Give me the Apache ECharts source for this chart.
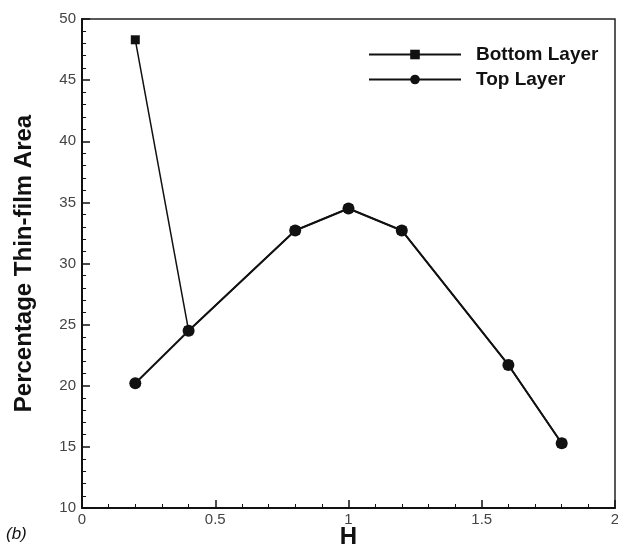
<!DOCTYPE html>
<html>
<head>
<meta charset="utf-8">
<script src="https://cdn.jsdelivr.net/npm/echarts@6/dist/echarts.min.js"></script>
<style>
  html, body { margin: 0; padding: 0; background: #fff; }
  #chart { width: 618px; height: 548px; }
</style>
</head>
<body>
<div id="chart"></div>
<script>
// values
const hValues = [0.2, 0.4, 0.8, 1.0, 1.2, 1.6, 1.8];
const bottomLayer = [48.3, 24.5, 32.7, 34.5, 32.7, 21.7, 15.3];
const topLayer = [20.2, 24.5, 32.7, 34.5, 32.7, 21.7, 15.3];

const chart = echarts.init(document.getElementById('chart'));

const pairs = (xs, ys) => xs.map((x, i) => [x, ys[i]]);

chart.setOption({
  animation: false,
  backgroundColor: '#fff',
  textStyle: { fontFamily: 'Liberation Sans, Arial, sans-serif' },
  grid: { left: 82, right: 3, top: 19, bottom: 40, containLabel: false, outerBoundsMode: 'none' },
  legend: {
    orient: 'vertical',
    left: 363,
    top: 40,
    itemWidth: 92,
    itemHeight: 12,
    itemGap: 6,
    textStyle: { fontSize: 19, fontWeight: 'bold', color: '#111', padding: [0, 0, 0, 10] },
    data: ['Bottom Layer', 'Top Layer']
  },
  xAxis: {
    type: 'value',
    min: 0, max: 2, interval: 0.5,
    name: 'H',
    nameLocation: 'middle',
    nameGap: 17,
    nameMoveOverlap: false,
    nameTextStyle: { fontSize: 24, fontWeight: 'bold', color: '#111' },
    axisLine: { show: true, lineStyle: { color: '#111', width: 2 } },
    axisTick: { inside: true, length: 8, lineStyle: { color: '#111', width: 1.5 } },
    minorTick: { show: true, splitNumber: 5, length: 4, lineStyle: { color: '#111' } },
    axisLabel: { fontSize: 15, color: '#444', margin: 4,
      formatter: v => String(v) },
    splitLine: { show: false }
  },
  yAxis: {
    type: 'value',
    min: 10, max: 50, interval: 5,
    name: 'Percentage Thin-film Area',
    nameLocation: 'middle',
    nameGap: 46,
    nameMoveOverlap: false,
    nameTextStyle: { fontSize: 24, fontWeight: 'bold', color: '#111' },
    axisLine: { show: true, lineStyle: { color: '#111', width: 2 } },
    axisTick: { inside: true, length: 8, lineStyle: { color: '#111', width: 1.5 } },
    minorTick: { show: true, splitNumber: 5, length: 4, lineStyle: { color: '#111' } },
    axisLabel: { fontSize: 15, color: '#444', margin: 6 },
    splitLine: { show: false }
  },
  graphic: [
    {
      type: 'rect',
      shape: { x: 82, y: 19, width: 533, height: 489 },
      style: { fill: 'none', stroke: '#222', lineWidth: 1.5 },
      silent: true
    },
    {
      type: 'text',
      left: 6, top: 526,
      style: { text: '(b)', fontSize: 17, fill: '#111', fontFamily: 'Liberation Sans, Arial, sans-serif', fontStyle: 'italic' }
    }
  ],
  series: [
    {
      name: 'Bottom Layer',
      type: 'line',
      data: pairs(hValues, bottomLayer),
      symbol: 'rect',
      symbolSize: 9,
      itemStyle: { color: '#111' },
      lineStyle: { color: '#111', width: 1.5 },
      z: 2
    },
    {
      name: 'Top Layer',
      type: 'line',
      data: pairs(hValues, topLayer),
      symbol: 'circle',
      symbolSize: 12,
      itemStyle: { color: '#111' },
      lineStyle: { color: '#111', width: 2 },
      z: 3
    }
  ]
});
</script>
</body>
</html>
